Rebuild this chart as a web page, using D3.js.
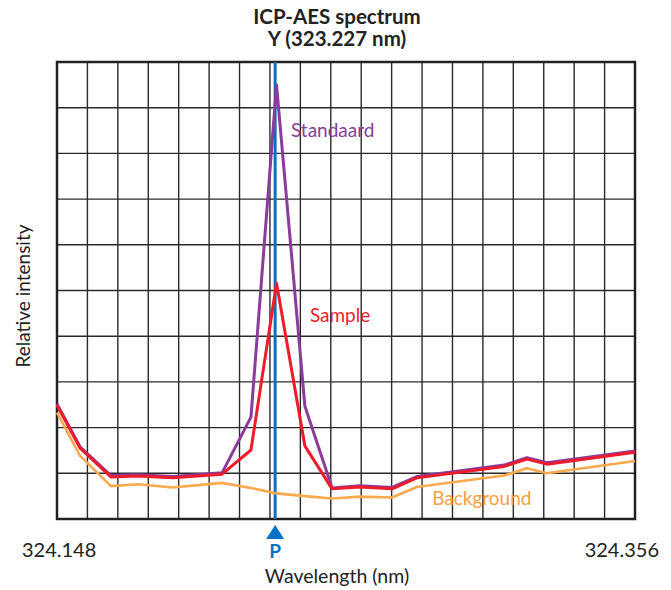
<!doctype html>
<html lang="en">
<head>
  <meta charset="utf-8">
  <title>ICP-AES spectrum</title>
</head>
<style>
html, body, svg {
    margin: 0;
    padding: 0;
    border: 0;
    background: #fff;
}
text { font-family: Lato, "Open Sans", sans-serif; }
</style>
<body>
    <svg></svg>
</body>
<script src="https://d3js.org/d3.v7.min.js"></script>
<script type="text/javascript">
    var wavelengths = [324.148, 324.1563, 324.1674, 324.1771, 324.1897, 324.2074, 324.2178, 324.2270,
                       324.2372, 324.2470, 324.2570, 324.2686, 324.2775, 324.3089, 324.3171, 324.3243, 324.356];
    var standaard  = [2.52, 1.58, 0.95, 0.97, 0.93, 1.01, 2.23, 9.50, 2.47, 0.68, 0.73, 0.69, 0.93, 1.18, 1.34, 1.23, 1.49];
    var sample     = [2.49, 1.55, 0.92, 0.94, 0.90, 0.98, 1.51, 5.16, 1.60, 0.66, 0.70, 0.66, 0.90, 1.15, 1.31, 1.20, 1.46];
    var background = [2.33, 1.38, 0.72, 0.76, 0.69, 0.79, 0.68, 0.56, 0.50, 0.45, 0.49, 0.47, 0.70, 0.95, 1.11, 1.00, 1.27];
    var peak_wl = 324.2265;
    var x_tick_labels = ["324.148", "324.356"];
    var x_cols = 19, y_rows = 10;

    var w = 671, h = 590;
    var margin = {left: 57, right: 36, top: 62, bottom: 71};

    var svg = d3.select("svg")
      .attr("width", w)
      .attr("height", h);

    var x = d3.scaleLinear()
      .domain([324.148, 324.356])
      .range([margin.left, w - margin.right]);

    var y = d3.scaleLinear()
      .domain([0, y_rows])
      .range([h - margin.bottom, margin.top]);

    // grid
    var step = (x.domain()[1] - x.domain()[0]) / x_cols;
    svg.append("g")
      .selectAll("line")
      .data(d3.range(1, x_cols))
      .enter()
      .append("line")
      .attr("x1", function(i){ return x(x.domain()[0] + i*step); })
      .attr("x2", function(i){ return x(x.domain()[0] + i*step); })
      .attr("y1", y(0))
      .attr("y2", y(y_rows))
      .attr("stroke", "#2a2a2a")
      .attr("stroke-width", 1.4);

    svg.append("g")
      .selectAll("line")
      .data(d3.range(1, y_rows))
      .enter()
      .append("line")
      .attr("x1", x.range()[0])
      .attr("x2", x.range()[1])
      .attr("y1", function(d){ return y(d); })
      .attr("y2", function(d){ return y(d); })
      .attr("stroke", "#2a2a2a")
      .attr("stroke-width", 1.4);

    svg.append("rect")
      .attr("x", x.range()[0])
      .attr("y", y(y_rows))
      .attr("width", x.range()[1] - x.range()[0])
      .attr("height", y(0) - y(y_rows))
      .attr("fill", "none")
      .attr("stroke", "#222")
      .attr("stroke-width", 2.5);

    // peak marker
    svg.append("line")
      .attr("x1", x(peak_wl))
      .attr("x2", x(peak_wl))
      .attr("y1", y(y_rows))
      .attr("y2", y(0))
      .attr("stroke", "#0a70c4")
      .attr("stroke-width", 3);

    var line = d3.line()
      .x(function(d, i){ return x(wavelengths[i]); })
      .y(function(d){ return y(d); });

    var series = [
      {name: "Background", values: background, color: "#fba94f", width: 2.6},
      {name: "Standaard", values: standaard, color: "#8a3b9c", width: 3},
      {name: "Sample", values: sample, color: "#ee1c2a", width: 3}
    ];

    svg.selectAll("path.series")
      .data(series)
      .enter()
      .append("path")
      .attr("class", "series")
      .attr("d", function(d){ return line(d.values); })
      .attr("fill", "none")
      .attr("stroke", function(d){ return d.color; })
      .attr("stroke-width", function(d){ return d.width; })
      .attr("stroke-linejoin", "round");

    // series labels
    var labels = [
      {text: "Standaard", wl: 324.2322, v: 8.35, color: "#8a3b9c"},
      {text: "Sample", wl: 324.2390, v: 4.3, color: "#ee1c2a"},
      {text: "Background", wl: 324.2830, v: 0.3, color: "#f7a040"}
    ];
    svg.selectAll("text.lbl")
      .data(labels)
      .enter()
      .append("text")
      .attr("class", "lbl")
      .attr("x", function(d){ return x(d.wl); })
      .attr("y", function(d){ return y(d.v); })
      .attr("fill", function(d){ return d.color; })
      .attr("font-size", 19)
      .text(function(d){ return d.text; });

    // triangle + P
    var px = x(peak_wl), by = y(0);
    svg.append("path")
      .attr("d", "M" + px + "," + (by + 6) + "L" + (px + 9) + "," + (by + 20) + "L" + (px - 9) + "," + (by + 20) + "Z")
      .attr("fill", "#0a70c4");
    svg.append("text")
      .attr("x", px)
      .attr("y", by + 39)
      .attr("text-anchor", "middle")
      .attr("font-size", 19)
      .attr("font-weight", "bold")
      .attr("fill", "#0a70c4")
      .text("P");

    // x labels
    svg.append("text")
      .attr("x", x(324.148) - 35)
      .attr("y", by + 38)
      .attr("font-size", 20)
      .attr("fill", "#222")
      .text(x_tick_labels[0]);
    svg.append("text")
      .attr("x", x(324.356) + 24)
      .attr("y", by + 38)
      .attr("text-anchor", "end")
      .attr("font-size", 20)
      .attr("fill", "#222")
      .text(x_tick_labels[1]);

    svg.append("text")
      .attr("x", 337)
      .attr("y", by + 64)
      .attr("text-anchor", "middle")
      .attr("font-size", 19.5)
      .attr("fill", "#222")
      .text("Wavelength (nm)");

    svg.append("text")
      .attr("transform", "translate(30,296) rotate(-90)")
      .attr("text-anchor", "middle")
      .attr("font-size", 19)
      .attr("fill", "#222")
      .text("Relative intensity");

    // title
    svg.append("text")
      .attr("x", 337)
      .attr("y", 24)
      .attr("text-anchor", "middle")
      .attr("font-size", 20.5)
      .attr("font-weight", "bold")
      .attr("fill", "#222")
      .text("ICP-AES spectrum");
    svg.append("text")
      .attr("x", 337)
      .attr("y", 46)
      .attr("text-anchor", "middle")
      .attr("font-size", 20.5)
      .attr("font-weight", "bold")
      .attr("fill", "#222")
      .text("Y (323.227 nm)");
</script>
</html>
